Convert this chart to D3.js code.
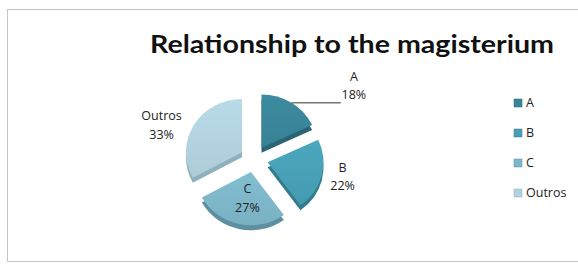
<!DOCTYPE html>
<html>
<head>
<meta charset="utf-8">
<script src="https://cdn.jsdelivr.net/npm/d3@7/dist/d3.min.js"></script>
<style>
  html, body { margin: 0; padding: 0; background: #fff; }
  svg { display: block; }
</style>
</head>
<body>
<svg width="578" height="264"></svg>
<script>
// data
const categories = ["A", "B", "C", "Outros"];
const values = [18, 22, 27, 33];
const colors = ["#3a8599", "#47a0b6", "#7db6c8", "#b1d2de"];
const sideColors = ["#2b6575", "#347b8c", "#5d8f9f", "#8fb0bc"];

const width = 578, height = 264;
const cx = 254, cy = 159;
const radius = 56;
const squash = 0.95;
const depth = 5;
const explode = 14;

const svg = d3.select("svg");

// chart border
svg.append("rect")
    .attr("x", 7.5).attr("y", 9.5)
    .attr("width", width + 10).attr("height", height - 12)
    .attr("fill", "#fff")
    .attr("stroke", "#c4c4c4")
    .attr("stroke-width", 1);

// title
svg.append("text")
    .attr("x", 352).attr("y", 53)
    .attr("text-anchor", "middle")
    .attr("font-family", "Lato, 'Open Sans', sans-serif")
    .attr("font-weight", "bold")
    .attr("font-size", 24)
    .attr("fill", "#111")
    .attr("textLength", 404)
    .attr("lengthAdjust", "spacingAndGlyphs")
    .text("Relationship to the magisterium");

const pie = d3.pie().sort(null).value(d => d.value);
const data = categories.map((c, i) => ({ name: c, value: values[i], i: i }));
const arcs = pie(data);
const arc = d3.arc().innerRadius(0).outerRadius(radius);

// offset of each exploded slice
function offset(d) {
    const a = (d.startAngle + d.endAngle) / 2;
    return [explode * Math.sin(a), -explode * Math.cos(a) * squash];
}

const g = svg.append("g").attr("transform", "translate(" + cx + "," + cy + ")");

// side (depth) of the slices
g.selectAll(".side")
    .data(arcs)
    .enter()
    .append("path")
    .attr("class", "side")
    .attr("transform", d => {
        const o = offset(d);
        return "translate(" + o[0] + "," + (o[1] + depth) + ") scale(1," + squash + ")";
    })
    .attr("d", arc)
    .attr("fill", d => sideColors[d.data.i]);

// gradients for the top faces
const defs = svg.append("defs");
colors.forEach((c, i) => {
    const gr = defs.append("linearGradient")
        .attr("id", "grad" + i)
        .attr("x1", "0").attr("y1", "0").attr("x2", "0").attr("y2", "1");
    gr.append("stop").attr("offset", "0%").attr("stop-color", d3.color(c).brighter(0.12));
    gr.append("stop").attr("offset", "100%").attr("stop-color", d3.color(c).darker(0.08));
});

g.selectAll(".slice")
    .data(arcs)
    .enter()
    .append("path")
    .attr("class", "slice")
    .attr("transform", d => {
        const o = offset(d);
        return "translate(" + o[0] + "," + o[1] + ") scale(1," + squash + ")";
    })
    .attr("d", arc)
    .attr("fill", d => "url(#grad" + d.data.i + ")");

// label placement (angle in degrees from 12 o'clock, distance from centre)
const labelPos = {
    A: { angle: 53, dist: 125, leader: true },
    B: { angle: 100, dist: 90 },
    C: { angle: 190, dist: 38 },
    Outros: { angle: 291, dist: 99 }
};

const total = d3.sum(values);
const fontFamily = "'Open Sans', 'Noto Sans', sans-serif";

arcs.forEach(d => {
    const p = labelPos[d.data.name];
    const a = p.angle * Math.PI / 180;
    const lx = p.dist * Math.sin(a);
    const ly = -p.dist * Math.cos(a);
    const pct = Math.round(d.data.value / total * 100) + "%";

    if (p.leader) {
        const o = offset(d);
        const m = (d.startAngle + d.endAngle) / 2;
        const sx = o[0] + radius * Math.sin(m);
        const sy = o[1] - radius * Math.cos(m) * squash;
        g.append("path")
            .attr("d", "M" + sx + "," + sy + "H" + (lx - 13))
            .attr("stroke", "#333")
            .attr("stroke-width", 1)
            .attr("fill", "none");
    }

    const t = g.append("text")
        .attr("x", lx).attr("y", ly)
        .attr("text-anchor", "middle")
        .attr("font-family", fontFamily)
        .attr("font-size", 12.5)
        .attr("fill", "#222");
    t.append("tspan").attr("x", lx).attr("dy", "-0.25em").text(d.data.name);
    t.append("tspan").attr("x", lx).attr("dy", "1.5em").text(pct);
});

// legend
const legend = svg.append("g").attr("transform", "translate(514,103)");
const item = legend.selectAll(".item")
    .data(categories)
    .enter()
    .append("g")
    .attr("class", "item")
    .attr("transform", (d, i) => "translate(0," + i * 30 + ")");

item.append("rect")
    .attr("x", 0).attr("y", -4)
    .attr("width", 8).attr("height", 8)
    .attr("fill", (d, i) => colors[i])
    .attr("stroke", (d, i) => sideColors[i])
    .attr("stroke-width", 0.5);

item.append("text")
    .attr("x", 12).attr("y", 0)
    .attr("dy", "0.35em")
    .attr("font-family", fontFamily)
    .attr("font-size", 12.5)
    .attr("fill", "#222")
    .text(d => d);
</script>
</body>
</html>
